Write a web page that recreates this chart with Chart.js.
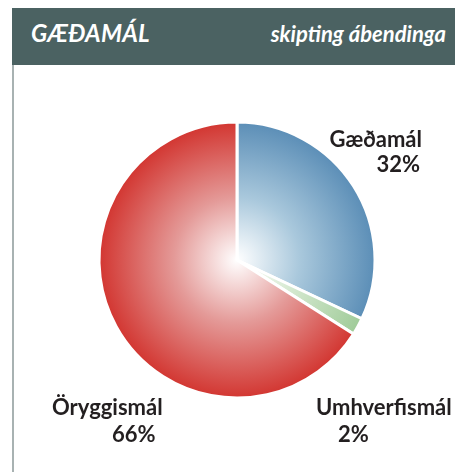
<!DOCTYPE html>
<html>
<head>
<meta charset="utf-8">
<script src="https://cdn.jsdelivr.net/npm/chart.js@4"></script>
<style>
    html, body { margin: 0; padding: 0; background: #fff; }
    #wrap { position: relative; width: 455px; height: 472px; overflow: hidden; }
    #head {
        position: absolute; left: 12px; top: 8px; width: 443px; height: 57px;
        background: #4b6262; color: #fff; font-family: Lato, "Open Sans", sans-serif; font-style: italic;
    }
    #head .t1 { position: absolute; left: 19px; top: 10px; font-size: 24px; font-weight: bold; letter-spacing: 0.2px; }
    #head .t2 { position: absolute; right: 9px; top: 12px; font-size: 22px; font-weight: bold; }
    #side { position: absolute; left: 12px; top: 65px; width: 2px; height: 407px; background: #a8b2b2; }
    #chart { position: absolute; left: 0; top: 0; }
</style>
</head>
<body>
<div id="wrap">
    <div id="head"><span class="t1">GÆÐAMÁL</span><span class="t2">skipting ábendinga</span></div>
    <div id="side"></div>
    <canvas id="chart" width="455" height="472"></canvas>
</div>
<script>
"use strict";

// data
var categories = ["Gæðamál", "Umhverfismál", "Öryggismál"];
var shares = [32, 2, 66];

// edge / centre colours of each slice gradient
var edgeColors = ["#5a8db6", "#9fcb98", "#d2342f"];
var midColors = ["#a9c8dc", "#d4e8cf", "#e49a98"];

// where each label sits, relative to the pie centre
var labelSpots = [
    { name: [185, -113, "right"], pct: [183, -88, "right"] },
    { name: [79, 155, "left"], pct: [101, 182, "left"] },
    { name: [-185, 155, "left"], pct: [-125, 182, "left"] }
];

function sliceFill(ctx) {
    var chart = ctx.chart;
    var area = chart.chartArea;
    if (!area) return edgeColors[ctx.dataIndex];
    var cx = (area.left + area.right) / 2;
    var cy = (area.top + area.bottom) / 2;
    var r = Math.min(area.right - area.left, area.bottom - area.top) / 2;
    var g = chart.ctx.createRadialGradient(cx, cy, 0, cx, cy, r);
    g.addColorStop(0, "#ffffff");
    g.addColorStop(0.45, midColors[ctx.dataIndex]);
    g.addColorStop(1, edgeColors[ctx.dataIndex]);
    return g;
}

var pieLabels = {
    id: "pieLabels",
    afterDraw: function (chart) {
        var meta = chart.getDatasetMeta(0);
        var c = chart.ctx;
        c.save();
        c.fillStyle = "#231f20";
        c.font = "bold 22px Lato, 'Open Sans', sans-serif";
        c.textBaseline = "alphabetic";
        for (var i = 0; i < meta.data.length; i++) {
            var arc = meta.data[i];
            var spot = labelSpots[i];
            c.textAlign = spot.name[2];
            c.fillText(categories[i], arc.x + spot.name[0], arc.y + spot.name[1]);
            c.textAlign = spot.pct[2];
            c.fillText(shares[i] + "%", arc.x + spot.pct[0], arc.y + spot.pct[1]);
        }
        c.restore();
    }
};

var chart = new Chart(document.getElementById("chart"), {
    type: "pie",
    data: {
        labels: categories,
        datasets: [{
            data: shares,
            backgroundColor: sliceFill,
            borderColor: "#ffffff",
            borderWidth: 3
        }]
    },
    options: {
        responsive: false,
        animation: false,
        layout: { padding: { left: 97.5, right: 78.5, top: 120.5, bottom: 72.5 } },
        plugins: {
            legend: { display: false },
            tooltip: { enabled: false }
        }
    },
    plugins: [pieLabels]
});
</script>
</body>
</html>
